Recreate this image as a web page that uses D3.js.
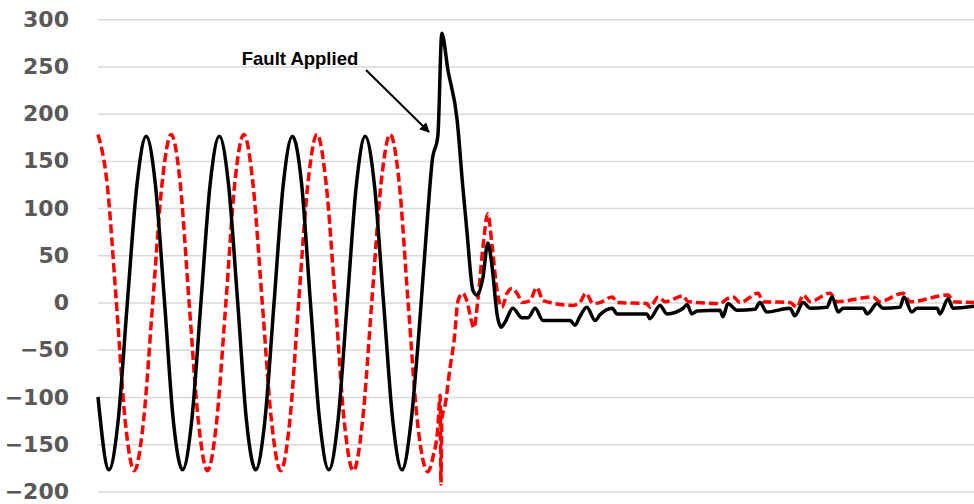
<!DOCTYPE html>
<html>
<head>
<meta charset="utf-8">
<script src="https://cdn.jsdelivr.net/npm/d3@7"></script>
<style>
  html, body { margin: 0; padding: 0; background: #fff; }
  svg { display: block; }
</style>
</head>
<body>
<svg id="chart" width="974" height="504"></svg>
<script>
// ---- Data (time in ms, current values) ----
const yTicks = [-200, -150, -100, -50, 0, 50, 100, 150, 200, 250, 300];

const blackTime = [
  0, 2.5, 4.6, 6.7, 8.9, 11.0, 13.1, 15.2, 17.2, 19.3, 21.4, 23.5, 25.6, 27.7, 29.8, 31.9,
  33.9, 36.0, 38.1, 40.2, 42.3, 44.4, 46.5, 48.5, 50.6, 52.7, 54.8, 56.9, 59.0, 61.0, 63.1,
  65.2, 67.3, 69.4, 71.5, 73.3, 75.3, 76.3, 77.6, 78.5, 79.9, 82.0, 83.3, 84.2, 85.6, 86.5,
  87.9, 89.0, 90.0, 91.1, 92.0, 92.9, 94.7, 96.8, 98.2, 99.8, 101.6, 107.8, 108.9, 110.0,
  111.6, 113.5, 114.6, 117.4, 118.5, 125.3, 126.0, 128.3, 129.9, 133.6, 134.5, 135.6, 136.8,
  142.0, 142.7, 143.8, 145.9, 150.0, 151.1, 152.7, 158.0, 159.1, 161.0, 162.6, 166.4, 167.6,
  169.0, 170.1, 174.7, 175.6, 177.9, 179.2, 183.1, 184.0, 185.8, 187.0, 191.6, 192.2, 194.1,
  195.2, 200
];
const blackCurrent = [
  -100, -177, -125, 0, 125, 176, 125, 0, -125, -177, -125, 0, 125, 176, 125, 0,
  -125, -177, -125, 0, 125, 176, 125, 0, -125, -177, -125, 0, 125, 176, 125,
  0, -125, -177, -125, -30, 95, 150, 177, 285, 246, 193, 122, 77, 13, 8,
  27, 63, 37, -12, -26, -21, -6, -16, -16, -6, -19, -19, -24, -15,
  -5, -19, -13, -6, -12, -12, -17, -3, -12, -6, -2, -12, -9,
  -8, -15, -1, -8, -7, 0, -10, -6, -14, 0, -6, -5, 6,
  -10, -6, -6, -12, -1, -6, -5, 6, -10, -6, -6, -12, 4,
  -6, -4
];

const redTime = [
  0, 2.1, 4.2, 6.2, 8.3, 10.4, 12.5, 14.6, 16.7, 18.8, 20.8, 22.9, 25.0, 27.1, 29.2, 31.2,
  33.3, 35.4, 37.5, 39.6, 41.7, 43.8, 45.8, 47.9, 50.0, 52.1, 54.2, 56.2, 58.3, 60.4, 62.5,
  64.6, 66.7, 68.8, 70.8, 72.9, 75.3, 76.5, 77.6, 78.1, 78.3, 78.5, 79.2, 80.4, 81.3, 82.2,
  83.3, 84.2, 85.4, 85.8, 86.8, 87.9, 89.0, 90.0, 91.1, 92.2, 93.4, 94.5, 95.9, 96.8, 98.6,
  100.2, 101.6, 108.4, 110.0, 111.4, 113.0, 114.6, 117.4, 118.5, 125.3, 126.0, 127.9, 129.5,
  133.6, 134.7, 142.0, 143.6, 145.0, 146.6, 150.7, 151.8, 158.0, 159.6, 161.0, 162.6, 167.1,
  168.7, 176.9, 178.5, 183.8, 185.4, 194.1, 195.2, 200
];
const redCurrent = [
  178, 125, 0, -125, -178, -125, 0, 125, 178, 125, 0, -125, -178, -125, 0, 125,
  178, 125, 0, -125, -178, -125, 0, 125, 178, 125, 0, -125, -178, -125, 0,
  125, 178, 125, 0, -125, -179, -163, -132, -98, -192, -122, -110, -68, -40, 2,
  10, 2, -22, -27, 6, 59, 94, 59, 13, -5, 10, 15, 8, 0, 2,
  16, 2, -3, 0, 10, -1, 0, 6, 0, -1, -5, 6, 1,
  7, 1, -1, 4, 6, 0, 10, 1, 0, -5, 8, 1, 10,
  1, 6, 1, 10, 1, 8, 1, 0
];

const annotationText = "Fault Applied";

// ---- Chart ----
const svg = d3.select("#chart");
const x = d3.scaleLinear().domain([0, 200]).range([98, 974]);
const y = d3.scaleLinear().domain([-200, 300]).range([491.5, 19.2]);

// gridlines
const grid = svg.append("g")
  .attr("transform", `translate(${x.range()[0]},0)`)
  .call(d3.axisLeft(y).tickValues(yTicks).tickSize(-(x.range()[1] - x.range()[0])).tickFormat(""));
grid.select(".domain").remove();
grid.selectAll(".tick line").attr("stroke", "#d9d9d9").attr("stroke-width", 1.5);

// y labels
const yAxis = svg.append("g")
  .attr("transform", `translate(${x.range()[0]},0)`)
  .call(d3.axisLeft(y).tickValues(yTicks).tickSize(0).tickPadding(29).tickFormat(d3.format("d")));
yAxis.select(".domain").remove();
yAxis.selectAll(".tick text")
  .attr("fill", "#595959")
  .attr("font-family", "'DejaVu Sans', sans-serif")
  .attr("font-weight", "bold")
  .attr("font-size", 22);

const line = d3.line()
  .x(d => x(d[0]))
  .y(d => y(d[1]))
  .curve(d3.curveMonotoneX);

const redData = redTime.map((t, i) => [t, redCurrent[i]]);
const blackData = blackTime.map((t, i) => [t, blackCurrent[i]]);

svg.append("path")
  .datum(redData)
  .attr("d", line)
  .attr("fill", "none")
  .attr("stroke", "#ff0000")
  .attr("stroke-width", 3.5)
  .attr("stroke-dasharray", "9,4")
  .attr("stroke-linejoin", "round");

svg.append("path")
  .datum(blackData)
  .attr("d", line)
  .attr("fill", "none")
  .attr("stroke", "#000")
  .attr("stroke-width", 3.5)
  .attr("stroke-linejoin", "round");

// annotation
const defs = svg.append("defs");
defs.append("marker")
  .attr("id", "arrow")
  .attr("viewBox", "0 0 10 10")
  .attr("refX", 9).attr("refY", 5)
  .attr("markerWidth", 5).attr("markerHeight", 5)
  .attr("orient", "auto")
  .append("path").attr("d", "M0,0 L10,5 L0,10 z").attr("fill", "#000");

svg.append("line")
  .attr("x1", 366).attr("y1", 70)
  .attr("x2", 429).attr("y2", 132)
  .attr("stroke", "#000").attr("stroke-width", 2)
  .attr("marker-end", "url(#arrow)");

svg.append("text")
  .attr("x", 300).attr("y", 65)
  .attr("text-anchor", "middle")
  .attr("font-family", "'Liberation Sans', Arial, sans-serif")
  .attr("font-weight", "bold")
  .attr("font-size", 18.5)
  .attr("fill", "#000")
  .text(annotationText);
</script>
</body>
</html>
